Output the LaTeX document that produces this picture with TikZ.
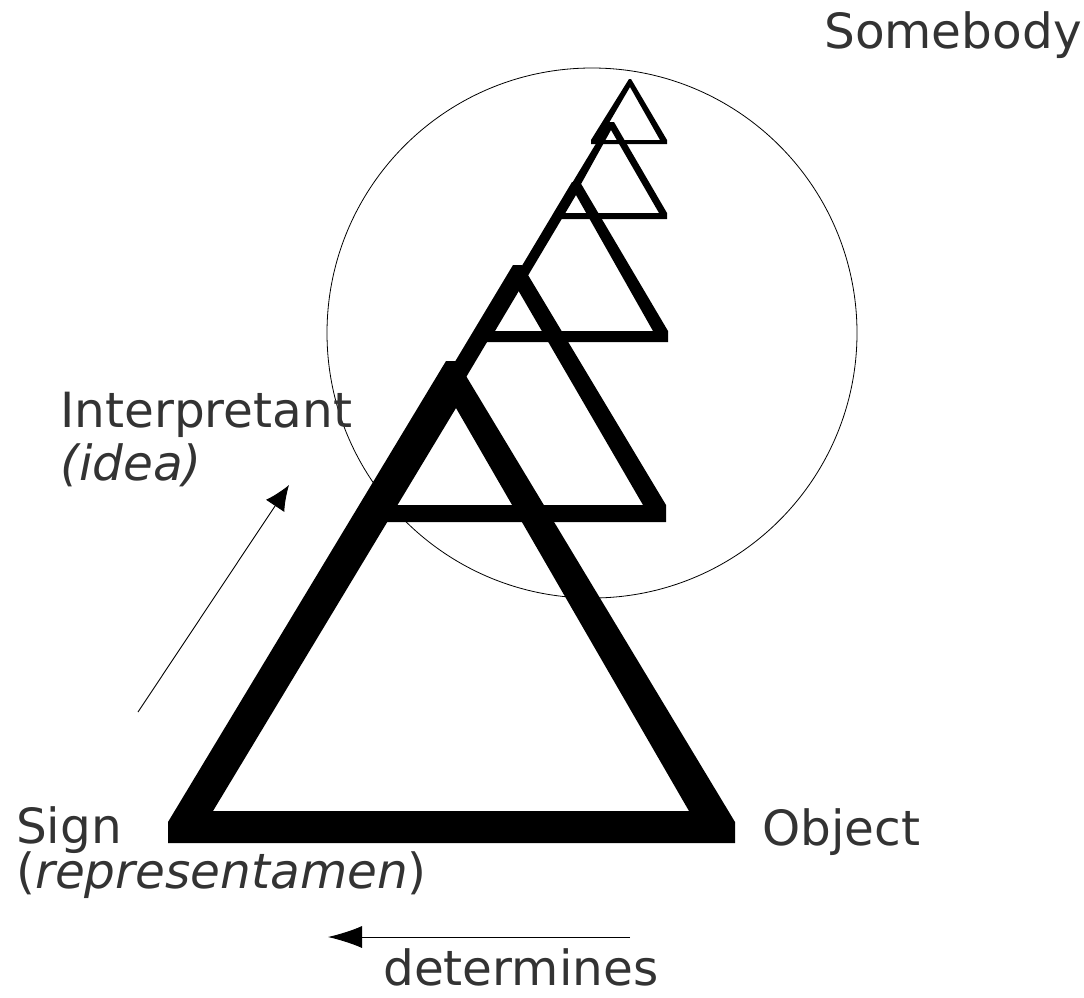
\documentclass[tikz,border=0pt]{standalone}
\usepackage{fontspec}
\setmainfont{DejaVu Sans}
\usetikzlibrary{arrows.meta}
\definecolor{txt}{HTML}{333333}
\begin{document}
\begin{tikzpicture}[x=1pt,y=-1pt,
  lbl/.style={text=txt, font=\fontsize{48.5}{56}\selectfont, inner sep=0pt, anchor=base west},
  tri/.style={fill=black, even odd rule},
  arr/.style={line width=0.9pt, -{Latex[length=25pt,width=22pt]}},
  arrb/.style={line width=0.9pt, -{Latex[length=34pt,width=22pt]}}]
\useasboundingbox (0,0) rectangle (1084,997);
\draw[line width=0.8pt] (592,333) circle[radius=265pt];
% triangles
\fill[tri] (168,822) -- (446,361) -- (457,361) -- (735,822) -- (735,843) -- (168,843) -- cycle
           (213,811) -- (456,408) -- (689,811) -- cycle;
\fill[tri] (369,505) -- (513,265) -- (522,265) -- (666,505) -- (666,522) -- (369,522) -- cycle
           (390,505) -- (518,290) -- (643,505) -- cycle;
\fill[tri] (483,331) -- (572,182) -- (580,182) -- (668,331) -- (668,342) -- (483,342) -- cycle
           (495,331) -- (576,195) -- (653,331) -- cycle;
\fill[tri] (554,213) -- (609,122) -- (614,122) -- (667,213) -- (667,219) -- (554,219) -- cycle
           (565,213) -- (611,130) -- (659,213) -- cycle;
\fill[tri] (591,140) -- (629,79) -- (631,79) -- (667,140) -- (667,144) -- (591,144) -- cycle
           (599,140) -- (630,87) -- (660,140) -- cycle;
% labels
\node[lbl] (somebody) at (824,48) {Somebody};
\node[lbl] (interp) at (60,427) {Interpretant};
\node[lbl] (idea) at (60,480) {\itshape (idea)};
\node[lbl] (sign) at (16,843) {Sign};
\node[lbl] (repr) at (16,888) {(\textit{representamen})};
\node[lbl] (object) at (762,845) {Object};
\node[lbl] (det) at (383,985) {determines};
% arrows
\coordinate (a1s) at (138,712);
\coordinate (a1e) at (289,485);
\draw[arr] (a1s) -- (a1e);
\coordinate (a2s) at (630,937);
\coordinate (a2e) at (328,937);
\draw[arrb] (a2s) -- (a2e);
\end{tikzpicture}
\end{document}
